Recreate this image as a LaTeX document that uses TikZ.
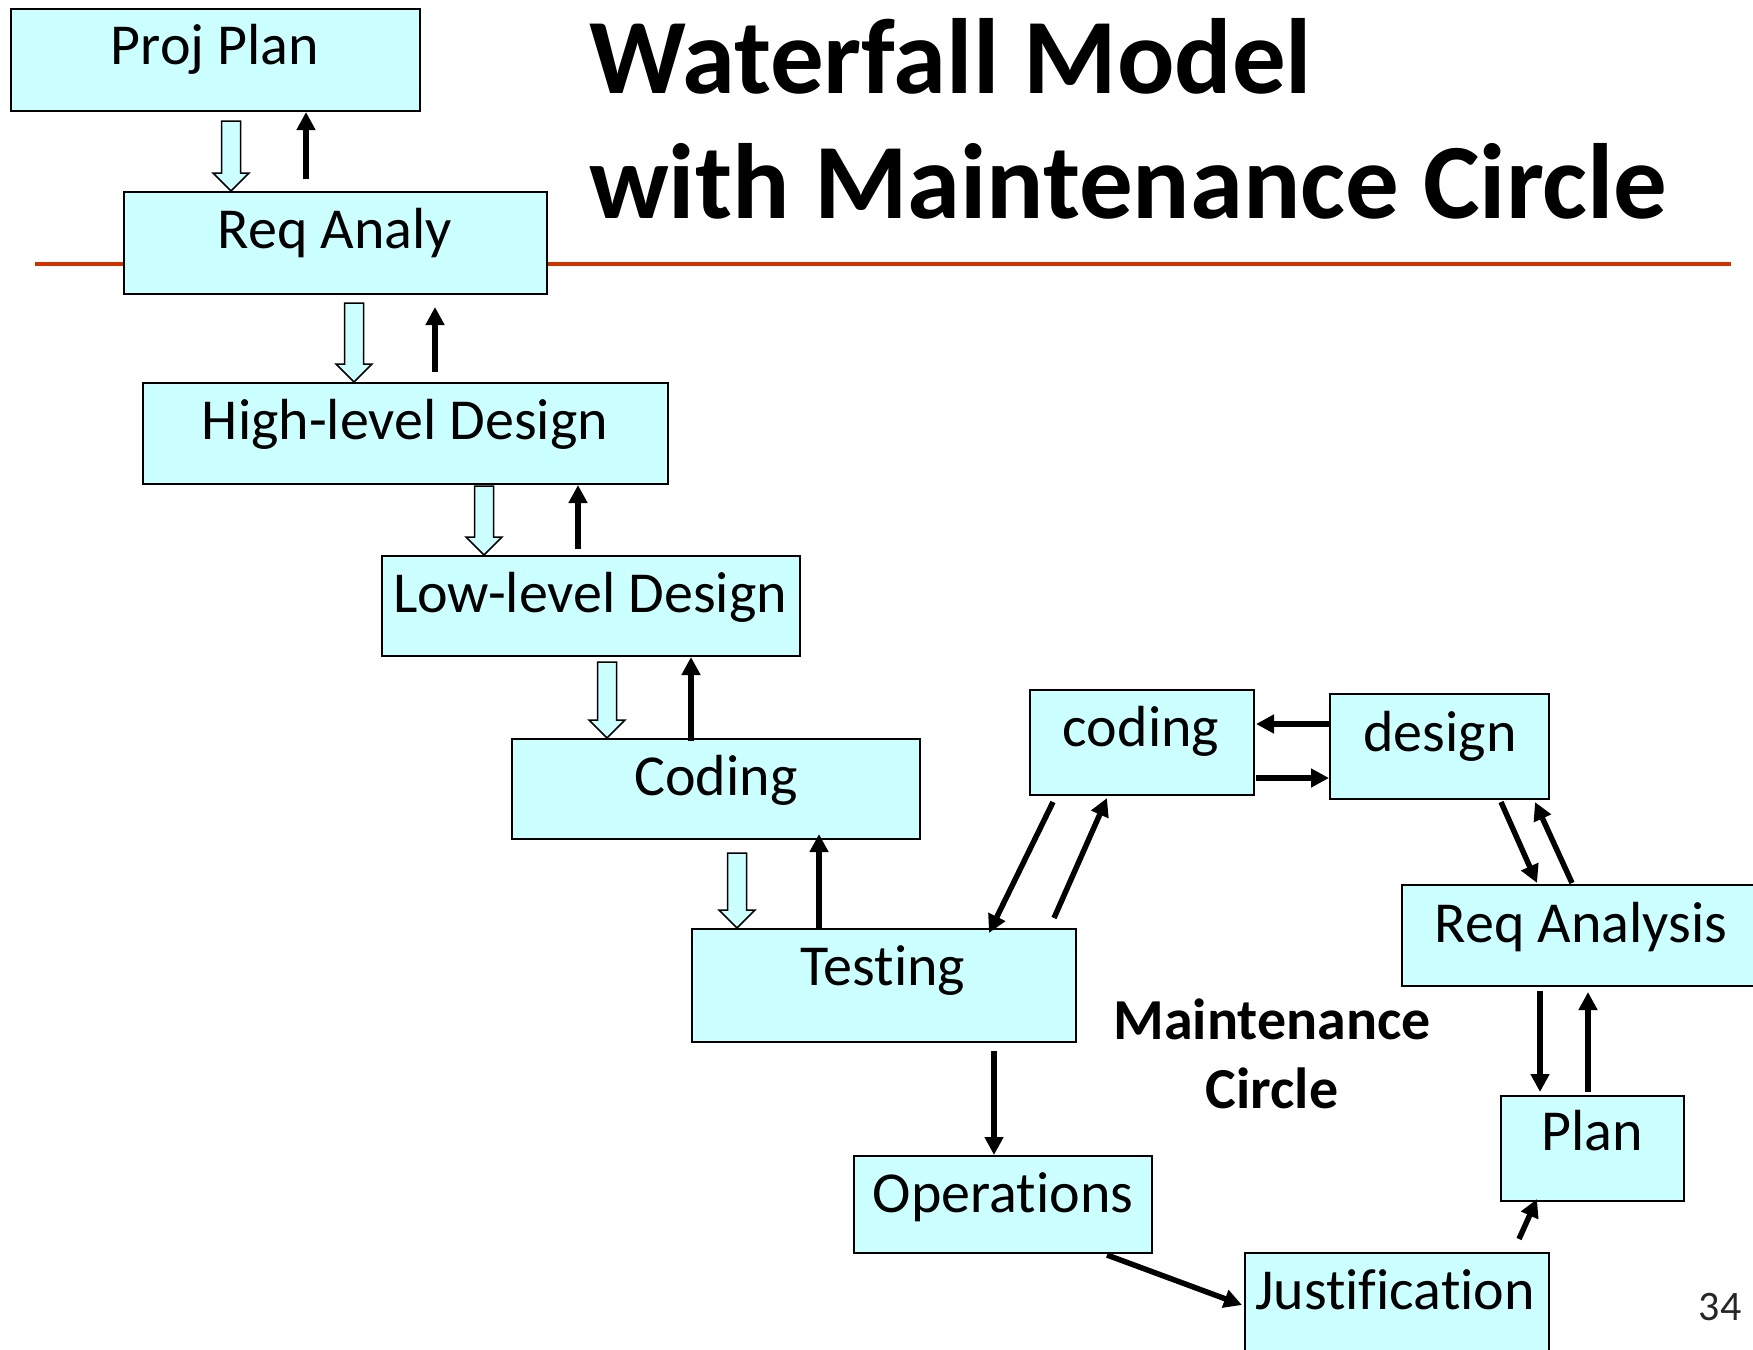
\documentclass[tikz,border=0pt]{standalone}
\usepackage{fontspec}
\setmainfont[Ligatures=CommonOff]{Carlito}
\usetikzlibrary{arrows.meta,calc}
\definecolor{boxfill}{RGB}{204,255,255}
\definecolor{rulered}{RGB}{204,51,0}
\newcommand\holarr[4]{%
  \path (#2.south -| #1,0) coordinate (ha) (#3.north -| #1,0) coordinate (hb);
  \draw[hol] ([shift={(-9.5,#4)}]ha) -- ([shift={(9.5,#4)}]ha) -- ([shift={(9.5,-18)}]hb)
    -- ([shift={(18,-18)}]hb) -- (hb) -- ([shift={(-18,-18)}]hb) -- ([shift={(-9.5,-18)}]hb) -- cycle;}
\begin{document}
\begin{tikzpicture}[x=1pt,y=-1pt,
  box/.style={draw=black,line width=2pt,fill=boxfill,anchor=north west,inner sep=0pt},
  txt/.style={font=\fontsize{58}{60}\selectfont,inner sep=0pt,anchor=base},
  lbl/.style={font=\fontsize{58}{60}\selectfont\bfseries,inner sep=0pt,anchor=base},
  ttl/.style={font=\fontsize{107}{110}\selectfont\bfseries,inner sep=0pt,anchor=base west},
  hol/.style={draw=black,line width=1.5pt,fill=boxfill,line join=miter},
  blk/.style={draw=black,line width=5.5pt,-{Triangle[length=18pt,width=18pt]}}]
\clip (0,0) rectangle (1753,1349);
\useasboundingbox (0,0) rectangle (1753,1349);
\fill[white] (0,0) rectangle (1753,1349);
% title rule
\draw[rulered,line width=4pt] (35,264) coordinate (r1) -- (1731,264) coordinate (r2);
% title
\node[ttl] (t1) at (589,93) {Waterfall Model};
\node[ttl] (t2) at (589,218) {with Maintenance Circle};
% waterfall boxes
\node[box,minimum width=409pt,minimum height=102pt] (pp) at (10,8) {};
\node[box,minimum width=423pt,minimum height=102pt] (ra) at (123,191) {};
\node[box,minimum width=525pt,minimum height=101pt] (hld) at (142,382) {};
\node[box,minimum width=418pt,minimum height=100pt] (lld) at (381,555) {};
\node[box,minimum width=408pt,minimum height=100pt] (cod) at (511,738) {};
\node[box,minimum width=384pt,minimum height=113pt] (tst) at (691,928) {};
\node[box,minimum width=298pt,minimum height=97pt] (ops) at (853,1155) {};
\node[box,minimum width=304pt,minimum height=108pt] (jus) at (1244,1252) {};
% maintenance circle boxes
\node[box,minimum width=224pt,minimum height=105pt] (mc) at (1029,689) {};
\node[box,minimum width=219pt,minimum height=105pt] (des) at (1329,693) {};
\node[box,minimum width=359pt,minimum height=101pt] (rqa) at (1401,884) {};
\node[box,minimum width=183pt,minimum height=105pt] (pl) at (1500,1095) {};
% texts
\node[txt] (ppl) at (215,64) {Proj Plan};
\node[txt] (ral) at (335,248) {Req Analy};
\node[txt] (hldl) at (405,439) {High-level Design};
\node[txt] (lldl) at (590,612) {Low-level Design};
\node[txt] (codl) at (716,795) {Coding};
\node[txt] (tstl) at (883,985) {Testing};
\node[txt] (opsl) at (1003,1212) {Operations};
\node[txt] (jusl) at (1395,1309) {Justification};
\node[txt] (mcl) at (1141,746) {coding};
\node[txt] (desl) at (1440,751) {design};
\node[txt] (rqal) at (1581,942) {Req Analysis};
\node[txt] (pll) at (1592,1150) {Plan};
\node[lbl] (m1) at (1272,1039) {Maintenance};
\node[lbl] (m2) at (1272,1108) {Circle};
\node[inner sep=0pt,anchor=base,font=\fontsize{42}{44}\selectfont,text=black!85] (pg) at (1720,1320) {34};
% hollow down arrows
\holarr{231}{pp}{ra}{9}
\holarr{354}{ra}{hld}{8}
\holarr{484}{hld}{lld}{1}
\holarr{607}{lld}{cod}{5}
\holarr{737}{cod}{tst}{13}
% black up arrows
\draw[blk,shorten <=12pt] (ra.north -| 306,0) -- (pp.south -| 306,0);
\draw[blk,shorten <=10pt,shorten >=12pt] (hld.north -| 435,0) -- (ra.south -| 435,0);
\draw[blk,shorten <=6pt] (lld.north -| 578,0) -- (hld.south -| 578,0);
\draw[blk,shorten <=-3pt] (cod.north -| 691,0) -- (lld.south -| 691,0);
\draw[blk,shorten >=-6pt] (tst.north -| 819,0) -- (cod.south -| 819,0);
% testing -> operations
\draw[blk,shorten <=8pt] (tst.south -| 994,0) -- (ops.north -| 994,0);
% maintenance circle
\draw[blk] ($(ops.south west)+(254,1)$) -- ($(jus.north west)+(-2,53)$);
\draw[blk] ($(jus.north west)+(275,-13)$) -- ($(pl.south west)+(37,-3)$);
\draw[blk,shorten <=4pt,shorten >=3pt] (rqa.south -| 1540,0) -- (pl.north -| 1540,0);
\draw[blk,shorten <=3pt,shorten >=5pt] (pl.north -| 1588,0) -- (rqa.south -| 1588,0);
\draw[blk] ($(rqa.north west)+(171,-1)$) -- ($(des.south west)+(206,2)$);
\draw[blk] ($(des.south west)+(172,2)$) -- ($(rqa.north west)+(136,-1)$);
\draw[blk] ($(des.north west)+(0,31)$) -- ($(mc.north east)+(1,35)$);
\draw[blk] ($(mc.north east)+(1,89)$) -- ($(des.north west)+(0,85)$);
\draw[blk] ($(mc.south west)+(24,6)$) -- ($(tst.north west)+(298,5)$);
\draw[blk] ($(tst.north west)+(363,-10)$) -- ($(mc.south west)+(78,2)$);
\end{tikzpicture}
\end{document}
